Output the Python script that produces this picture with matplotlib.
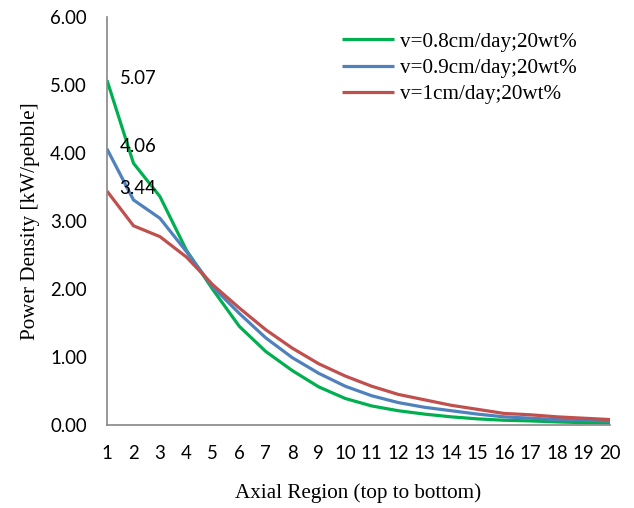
import matplotlib
matplotlib.use("Agg")
import matplotlib.pyplot as plt

regions = list(range(1, 21))
green_08 = [5.07, 3.85, 3.36, 2.57, 1.99, 1.45, 1.08, 0.80, 0.56, 0.39, 0.28, 0.21, 0.16, 0.12, 0.09, 0.07, 0.06, 0.045, 0.035, 0.03]
blue_09 = [4.06, 3.31, 3.04, 2.55, 2.03, 1.64, 1.28, 0.99, 0.76, 0.57, 0.43, 0.33, 0.26, 0.21, 0.16, 0.12, 0.10, 0.08, 0.07, 0.06]
red_10 = [3.44, 2.93, 2.77, 2.47, 2.06, 1.72, 1.40, 1.13, 0.90, 0.72, 0.57, 0.45, 0.37, 0.29, 0.23, 0.17, 0.15, 0.12, 0.10, 0.08]
labels = ["v=0.8cm/day;20wt%", "v=0.9cm/day;20wt%", "v=1cm/day;20wt%"]
colors = ["#00B050", "#4F81BD", "#C0504D"]
yticks = [0, 1, 2, 3, 4, 5, 6]

W, H = 634, 508
fig = plt.figure(figsize=(W / 100, H / 100), dpi=100)
ax = fig.add_axes([107 / W, 83 / H, 503 / W, 408 / H])

for ys, lab, c in zip([green_08, blue_09, red_10], labels, colors):
    ax.plot(regions, ys, color=c, lw=2.3, label=lab, solid_capstyle="butt")

for ys in [green_08, blue_09, red_10]:
    ax.annotate(f"{ys[0]:.2f}", (regions[0], ys[0]), xytext=(9, 1.5), textcoords="offset points",
                ha="left", va="center", fontsize=13.4, family="Lato")

ax.set_xlim(1, 20)
ax.set_ylim(0, 6)
ax.set_xticks(regions)
ax.set_xticklabels([str(r) for r in regions], family="Lato", fontsize=13.4)
ax.set_yticks(yticks)
ax.set_yticklabels([f"{v:.2f}" for v in yticks], family="Lato", fontsize=13.4)
ax.tick_params(axis="both", length=0)
ax.tick_params(axis="y", pad=14.5)
ax.tick_params(axis="x", pad=14.5)
for s in ["top", "right"]:
    ax.spines[s].set_visible(False)
for s in ["left", "bottom"]:
    ax.spines[s].set_color("#868686")
    ax.spines[s].set_linewidth(1.2)

ax.set_xlabel("Axial Region (top to bottom)", family="Liberation Serif", fontsize=15.2, labelpad=15.5)
ax.set_ylabel("Power Density [kW/pebble]", family="Liberation Serif", fontsize=15.2, labelpad=7)

leg = fig.legend(loc="upper left", bbox_to_anchor=(341.7 / W, 1 - 32 / H), frameon=False,
                 prop={"family": "Liberation Serif", "size": 15.2}, handlelength=2.5,
                 handletextpad=0.25, labelspacing=0.3, borderpad=0, borderaxespad=0)

fig.savefig("out.png", dpi=100)
